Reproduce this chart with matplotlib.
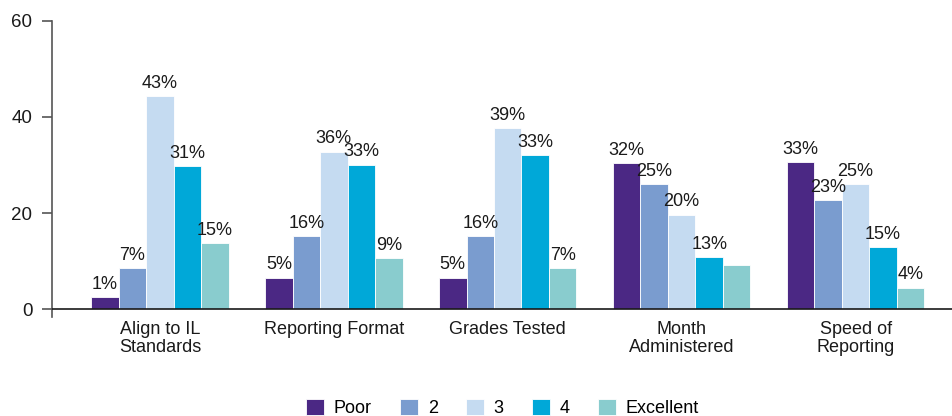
import numpy as np
import matplotlib.pyplot as plt

plt.rcParams["font.family"] = ["Liberation Sans", "DejaVu Sans"]

# Data
categories = ["Align to IL\nStandards", "Reporting Format", "Grades Tested",
              "Month\nAdministered", "Speed of\nReporting"]
series = ["Poor", "2", "3", "4", "Excellent"]
colors = ["#4B2884", "#7A9CCF", "#C5DBF1", "#00A8D8", "#89CCCE"]

# bar heights (counts) per series, one value per category
poor = [2.5, 6.6, 6.6, 30.4, 30.6]
two = [8.5, 15.3, 15.3, 26.0, 22.7]
three = [44.3, 32.8, 37.7, 19.7, 26.1]
four = [29.8, 30.1, 32.0, 10.9, 12.9]
excellent = [13.7, 10.7, 8.6, 9.2, 4.5]

# percent labels shown above the bars
poor_lbl = ["1%", "5%", "5%", "32%", "33%"]
two_lbl = ["7%", "16%", "16%", "25%", "23%"]
three_lbl = ["43%", "36%", "39%", "20%", "25%"]
four_lbl = ["31%", "33%", "33%", "13%", "15%"]
excellent_lbl = ["15%", "9%", "7%", "", "4%"]

values = [poor, two, three, four, excellent]
labels = [poor_lbl, two_lbl, three_lbl, four_lbl, excellent_lbl]

fs = 13

fig = plt.figure(figsize=(9.53, 4.16), dpi=100)
ax = fig.add_axes([0.0546, 0.238, 0.9454, 0.712])

x = np.arange(len(categories))
width = 0.158

for i, (name, vals, lbls, c) in enumerate(zip(series, values, labels, colors)):
    pos = x + (i - 2) * width
    bars = ax.bar(pos, vals, width, color=c, label=name,
                  edgecolor="white", linewidth=0.6)
    for b, t in zip(bars, lbls):
        if t:
            ax.annotate(t, (b.get_x() + b.get_width() / 2, b.get_height()),
                        xytext=(0, 3), textcoords="offset points",
                        ha="center", va="bottom", fontsize=fs, color="#1a1a1a")

ax.set_xlim(-0.62, 4.56)
ax.set_ylim(-1.6, 60)
ax.set_yticks([0, 20, 40, 60])
ax.set_xticks(x)
ax.set_xticklabels(categories, fontsize=fs, color="#1a1a1a", linespacing=1.05)

ax.axhline(0, color="#1a1a1a", lw=1.2, zorder=3)
for s in ["top", "right", "bottom"]:
    ax.spines[s].set_visible(False)
ax.spines["left"].set_color("#555555")
ax.spines["left"].set_linewidth(1.2)

ax.tick_params(axis="y", direction="out", length=7.2, width=1.2,
               color="#555555", labelsize=fs + 0.5, pad=7, labelcolor="#1a1a1a")
ax.tick_params(axis="x", length=0, pad=3)

ax.legend(loc="center", bbox_to_anchor=(0.527, 0.02),
          bbox_transform=fig.transFigure, ncol=5, frameon=False,
          fontsize=fs, handlelength=1.0, handleheight=1.0,
          handletextpad=0.55, columnspacing=1.55)

fig.savefig("out.png", dpi=100)
